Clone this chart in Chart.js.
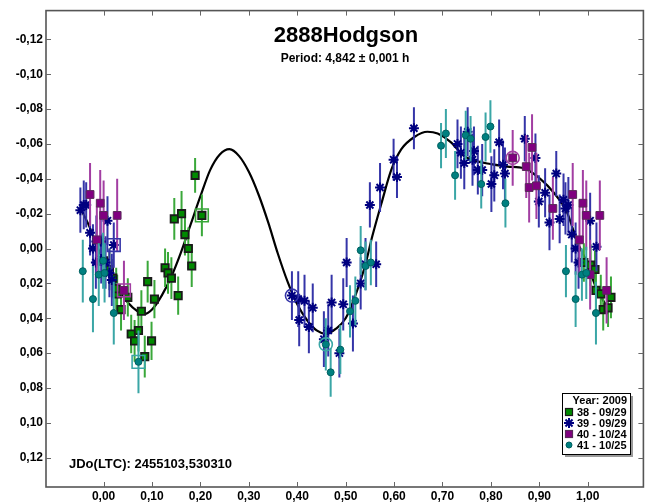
<!DOCTYPE html>
<html><head><meta charset="utf-8">
<script src="https://cdn.jsdelivr.net/npm/chart.js@4.4.1/dist/chart.umd.min.js"></script>
<style>html,body{margin:0;padding:0;background:#fff}#wrap{width:654px;height:504px;position:relative}</style>
</head><body><div id="wrap"><canvas id="c" width="654" height="504"></canvas></div>
<script>
// ---- texts / labels ----
const titleText = '2888Hodgson';
const subtitleText = 'Period: 4,842 ± 0,001 h';
const jdText = 'JDo(LTC): 2455103,530310';
const legendTitle = 'Year: 2009';
const seriesNames = ['38 - 09/29', '39 - 09/29', '40 - 10/24', '41 - 10/25'];
const xTicks = [0.00, 0.10, 0.20, 0.30, 0.40, 0.50, 0.60, 0.70, 0.80, 0.90, 1.00];
const yTicks = [-0.12, -0.10, -0.08, -0.06, -0.04, -0.02, 0.00, 0.02, 0.04, 0.06, 0.08, 0.10, 0.12];

// ---- series 38 - 09/29 ----
const s38Phase = [0.189, 0.203, 0.146, 0.161, 0.168, 0.175, 0.182, 0.127, 0.133, 0.140, 0.154, 0.091, 0.105, 0.078, 0.050, 0.036, 0.057, 0.072, 0.064, 0.099, 0.085, 0.028, 0.000, 0.012, 0.019, 0.026, 0.992, 1.006, 1.015, 1.017, 1.027, 1.032, 1.042, 1.048];
const s38Mag   = [-0.042, -0.019, -0.017, -0.020, -0.008, 0.000, 0.010, 0.011, 0.014, 0.017, 0.027, 0.019, 0.029, 0.036, 0.028, 0.035, 0.049, 0.047, 0.053, 0.053, 0.062, 0.026, 0.007, 0.012, 0.017, 0.023, 0.008, 0.0095, 0.012, 0.024, 0.026, 0.035, 0.034, 0.028];
const s38Err   = [0.010, 0.012, 0.012, 0.013, 0.012, 0.012, 0.012, 0.011, 0.012, 0.012, 0.011, 0.012, 0.011, 0.012, 0.011, 0.012, 0.011, 0.012, 0.012, 0.011, 0.012, 0.011, 0.012, 0.012, 0.011, 0.012, 0.011, 0.012, 0.011, 0.012, 0.011, 0.012, 0.011, 0.012];

// ---- series 39 - 09/29 ----
const s39Phase = [-0.048, -0.041, -0.036, 0.008, -0.028, -0.022, -0.015, -0.006, 0.021, -0.016, -0.005, 0.004, 0.012, 0.017,
  0.389, 0.404, 0.402, 0.415, 0.432, 0.424, 0.464, 0.455, 0.471, 0.495, 0.487, 0.515, 0.531, 0.502, 0.541, 0.563,
  0.550, 0.571, 0.599, 0.606, 0.641,
  0.731, 0.738, 0.752, 0.745, 0.765, 0.762, 0.773, 0.782, 0.817, 0.807, 0.801, 0.825, 0.829, 0.870,
  0.892, 0.935, 0.912, 0.899, 0.950, 0.960, 0.954, 0.942, 0.921, 1.005, 0.967, 0.975, 1.018, 0.981];
const s39Mag   = [-0.022, -0.025, -0.025, -0.016, -0.009, 0.000, -0.004, -0.004, -0.002, 0.008, 0.006, 0.008, 0.014, 0.018,
  0.027, 0.041, 0.029, 0.030, 0.034, 0.045, 0.047, 0.052, 0.031, 0.032, 0.060, 0.043, 0.020, 0.008, 0.009, 0.009,
  -0.025, -0.035, -0.051, -0.041, -0.069,
  -0.060, -0.055, -0.067, -0.049, -0.056, -0.051, -0.045, -0.045, -0.061, -0.042, -0.037, -0.048, -0.043, -0.063,
  -0.052, -0.043, -0.032, -0.027, -0.028, -0.025, -0.023, -0.017, -0.015, -0.016, -0.008, 0.000, -0.001, 0.008];
const s39Err   = [0.013, 0.014, 0.013, 0.014, 0.013, 0.014, 0.015, 0.014, 0.013, 0.015, 0.014, 0.015, 0.014, 0.015,
  0.014, 0.015, 0.016, 0.015, 0.014, 0.015, 0.015, 0.016, 0.016, 0.015, 0.014, 0.016, 0.015, 0.014, 0.015, 0.013,
  0.013, 0.014, 0.012, 0.012, 0.012,
  0.014, 0.015, 0.014, 0.015, 0.014, 0.015, 0.014, 0.015, 0.013, 0.015, 0.016, 0.014, 0.015, 0.013,
  0.014, 0.013, 0.014, 0.015, 0.015, 0.016, 0.015, 0.014, 0.016, 0.016, 0.016, 0.015, 0.014, 0.015];

// ---- series 40 - 10/24 ----
const s40Phase = [-0.028, -0.007, 0.000, 0.028, -0.014, 0.042,
  0.845, 0.873, 0.885, 0.879, 0.894, 0.928, 0.969, 0.990, 0.997, 1.025, 0.983, 1.005, 1.039];
const s40Mag   = [-0.031, -0.026, -0.019, -0.019, -0.005, 0.024,
  -0.052, -0.047, -0.058, -0.035, -0.036, -0.023, -0.031, -0.026, -0.019, -0.019, -0.005, 0.015, 0.024];
const s40Err   = [0.018, 0.019, 0.020, 0.021, 0.019, 0.017,
  0.016, 0.018, 0.019, 0.020, 0.019, 0.018, 0.018, 0.019, 0.020, 0.020, 0.019, 0.020, 0.019];

// ---- series 41 - 10/25 ----
const s41Phase = [-0.043, -0.022, -0.010, 0.002, 0.021, 0.072, -0.001,
  0.520, 0.509, 0.469, 0.489, 0.459, 0.531, 0.541, 0.552,
  0.707, 0.697, 0.726, 0.748, 0.758, 0.799, 0.789, 0.780, 0.830,
  0.955, 0.975, 0.988, 0.997, 1.017];
const s41Mag   = [0.013, 0.029, 0.015, 0.014, 0.037, 0.065, 0.007,
  0.030, 0.036, 0.071, 0.058, 0.055, 0.001, 0.010, 0.008,
  -0.066, -0.059, -0.042, -0.065, -0.063, -0.070, -0.064, -0.037, -0.026,
  0.013, 0.029, 0.015, 0.014, 0.037];
const s41Err   = [0.018, 0.019, 0.018, 0.017, 0.018, 0.018, 0.016,
  0.014, 0.015, 0.014, 0.014, 0.015, 0.014, 0.014, 0.013,
  0.014, 0.013, 0.014, 0.014, 0.013, 0.015, 0.014, 0.014, 0.014,
  0.015, 0.016, 0.015, 0.015, 0.018];

// ---- highlighted (session reference) points ----
const hlPhase  = [0.203, 0.021, 0.042, 0.072, 0.389, 0.459, 0.845];
const hlMag    = [-0.019, -0.002, 0.024, 0.065, 0.027, 0.055, -0.052];
const hlSeries = [0, 1, 2, 3, 1, 3, 2];

// ---- Fourier fit curve ----
const fitPhase = [-0.048, -0.03, -0.01, 0.01, 0.03, 0.05, 0.07, 0.085, 0.10, 0.12, 0.14, 0.16, 0.18, 0.20, 0.22, 0.24, 0.26, 0.28, 0.30, 0.32, 0.34, 0.36, 0.38, 0.40, 0.42, 0.44, 0.46, 0.48, 0.50, 0.52, 0.54, 0.555, 0.574, 0.594, 0.615, 0.642, 0.669, 0.69, 0.717, 0.745, 0.772, 0.799, 0.834, 0.868, 0.902, 0.930, 0.957, 0.977, 0.998, 1.018, 1.039];
const fitMag   = [-0.023, -0.013, 0.001, 0.013, 0.023, 0.031, 0.036, 0.0375, 0.035, 0.027, 0.016, 0.002, -0.014, -0.030, -0.045, -0.054, -0.057, -0.053, -0.044, -0.031, -0.015, 0.003, 0.019, 0.032, 0.041, 0.047, 0.049, 0.046, 0.040, 0.027, 0.010, -0.007, -0.026, -0.045, -0.057, -0.064, -0.067, -0.066, -0.061, -0.053, -0.050, -0.0485, -0.047, -0.046, -0.040, -0.032, -0.021, -0.005, 0.008, 0.023, 0.033];

// ---- styles ----
const FONT = '"Liberation Sans", Arial, sans-serif';
const seriesStyle = [
  {shape: 'rect', fill: '#008a00', border: '#1a1a1a', bar: '#3aa83a', radius: 5.2, bw: 1.8},
  {shape: 'star', fill: '#000080', border: '#000080', bar: '#3535a8', radius: 5, bw: 2},
  {shape: 'rect', fill: '#800080', border: '#5a2a5a', bar: '#a23ea2', radius: 5.5, bw: 1},
  {shape: 'circle', fill: '#008080', border: '#006060', bar: '#3aa6a6', radius: 3.5, bw: 1}
];
const hlShape = ['rect', 'rect', 'rect', 'rect', 'circle', 'circle', 'circle'];

const pts = (xs, ys) => xs.map((x, i) => ({x: x, y: ys[i]}));
const seriesData = [
  [s38Phase, s38Mag, s38Err],
  [s39Phase, s39Mag, s39Err],
  [s40Phase, s40Mag, s40Err],
  [s41Phase, s41Mag, s41Err]
];

const datasets = [];
datasets.push({
  type: 'line', label: 'fit', data: pts(fitPhase, fitMag),
  borderColor: '#000', borderWidth: 2.2, pointRadius: 0, fill: false,
  cubicInterpolationMode: 'monotone', order: 10
});
seriesData.forEach((s, k) => {
  const st = seriesStyle[k];
  datasets.push({
    type: 'scatter', label: seriesNames[k], data: pts(s[0], s[1]), errors: s[2], errorColor: st.bar,
    pointStyle: st.shape, pointRadius: st.radius, pointBackgroundColor: st.fill,
    pointBorderColor: st.border, pointBorderWidth: st.bw, order: 5 - k
  });
});
datasets.push({
  type: 'scatter', label: 'ref', data: pts(hlPhase, hlMag),
  pointStyle: hlShape.map(s => s),
  pointRadius: hlShape.map(s => s === 'rect' ? 9 : 6.5),
  pointBackgroundColor: 'rgba(0,0,0,0)',
  pointBorderColor: hlSeries.map(k => seriesStyle[k].bar),
  pointBorderWidth: 1.6, order: 0
});

const fmt = v => v.toFixed(2).replace('.', ',');

const errPlugin = {
  id: 'errbars',
  beforeDatasetDraw(chart, args) {
    const ds = chart.data.datasets[args.index];
    if (!ds.errors) return;
    const ctx = chart.ctx, xs = chart.scales.x, ys = chart.scales.y, a = chart.chartArea;
    ctx.save();
    ctx.beginPath(); ctx.rect(a.left, a.top, a.right - a.left, a.bottom - a.top); ctx.clip();
    ctx.strokeStyle = ds.errorColor; ctx.lineWidth = 2;
    ds.data.forEach((p, i) => {
      const e = ds.errors[i];
      const px = xs.getPixelForValue(p.x);
      ctx.beginPath();
      ctx.moveTo(px, ys.getPixelForValue(p.y - e));
      ctx.lineTo(px, ys.getPixelForValue(p.y + e));
      ctx.stroke();
    });
    ctx.restore();
  }
};

function drawMarker(ctx, shape, x, y, st) {
  ctx.save();
  ctx.fillStyle = st.fill; ctx.strokeStyle = st.border; ctx.lineWidth = st.bw;
  if (shape === 'rect') {
    ctx.lineWidth = 1.2;
    ctx.fillRect(x - 3.5, y - 3.5, 7, 7); ctx.strokeRect(x - 3.5, y - 3.5, 7, 7);
  } else if (shape === 'circle') {
    ctx.beginPath(); ctx.arc(x, y, 3, 0, Math.PI * 2); ctx.fill(); ctx.lineWidth = 1; ctx.stroke();
  } else {
    ctx.lineWidth = 2;
    for (let i = 0; i < 4; i++) {
      const ang = i * Math.PI / 4;
      ctx.beginPath();
      ctx.moveTo(x - 5 * Math.cos(ang), y - 5 * Math.sin(ang));
      ctx.lineTo(x + 5 * Math.cos(ang), y + 5 * Math.sin(ang));
      ctx.stroke();
    }
  }
  ctx.restore();
}

const framePlugin = {
  id: 'frame',
  afterDraw(chart) {
    const ctx = chart.ctx, a = chart.chartArea, xs = chart.scales.x, ys = chart.scales.y;
    ctx.save();
    // box
    ctx.strokeStyle = '#555'; ctx.lineWidth = 1.6;
    ctx.strokeRect(a.left, a.top, a.right - a.left, a.bottom - a.top);
    // inner ticks
    ctx.lineWidth = 1; ctx.strokeStyle = '#666';
    const tl = 5;
    xTicks.forEach(v => {
      const px = Math.round(xs.getPixelForValue(v)) + 0.5;
      ctx.beginPath(); ctx.moveTo(px, a.bottom); ctx.lineTo(px, a.bottom - tl); ctx.stroke();
      ctx.beginPath(); ctx.moveTo(px, a.top); ctx.lineTo(px, a.top + tl); ctx.stroke();
    });
    yTicks.forEach(v => {
      const py = Math.round(ys.getPixelForValue(v)) + 0.5;
      ctx.beginPath(); ctx.moveTo(a.left, py); ctx.lineTo(a.left + tl, py); ctx.stroke();
      ctx.beginPath(); ctx.moveTo(a.right, py); ctx.lineTo(a.right - tl, py); ctx.stroke();
    });
    // titles
    ctx.fillStyle = '#000'; ctx.textAlign = 'center'; ctx.textBaseline = 'middle';
    ctx.font = 'bold 22px ' + FONT;
    ctx.fillText(titleText, 346, 36);
    ctx.font = 'bold 12px ' + FONT;
    ctx.fillText(subtitleText, 345, 59);
    ctx.textAlign = 'left';
    ctx.font = 'bold 13px ' + FONT;
    ctx.fillText(jdText, 69, 464);
    // legend
    const lx = 562, ly = 393, lw = 68, lh = 61;
    ctx.fillStyle = '#9a9a9a'; ctx.fillRect(lx + 3, ly + 3, lw, lh);
    ctx.fillStyle = '#fff'; ctx.fillRect(lx, ly, lw, lh);
    ctx.strokeStyle = '#000'; ctx.lineWidth = 1; ctx.strokeRect(lx + 0.5, ly + 0.5, lw, lh);
    ctx.fillStyle = '#000'; ctx.font = 'bold 11px ' + FONT;
    ctx.textAlign = 'right';
    ctx.fillText(legendTitle, lx + lw - 3, ly + 8);
    ctx.textAlign = 'left';
    seriesNames.forEach((n, k) => {
      const yy = ly + 19 + k * 11;
      drawMarker(ctx, seriesStyle[k].shape, lx + 7, yy, seriesStyle[k]);
      ctx.fillStyle = '#000';
      ctx.fillText(n, lx + 15, yy + 0.5);
    });
    ctx.restore();
  }
};

new Chart(document.getElementById('c'), {
  data: {datasets: datasets},
  options: {
    responsive: false, animation: false,
    layout: {padding: {left: 0, right: 7, top: 7, bottom: 0}},
    plugins: {legend: {display: false}, tooltip: {enabled: false}, title: {display: false}},
    scales: {
      x: {
        type: 'linear', min: -0.119, max: 1.115,
        grid: {display: false, drawTicks: false, tickLength: 0}, border: {display: false},
        afterBuildTicks: ax => { ax.ticks = xTicks.map(v => ({value: v})); },
        afterFit: ax => { ax.height = 17; },
        ticks: {color: '#000', padding: 2, font: {family: FONT, size: 12, weight: 'bold'}, callback: v => fmt(v), maxRotation: 0, autoSkip: false}
      },
      y: {
        type: 'linear', reverse: true, min: -0.1365, max: 0.1368,
        grid: {display: false, drawTicks: false, tickLength: 0}, border: {display: false},
        afterBuildTicks: ax => { ax.ticks = yTicks.map(v => ({value: v})); },
        afterFit: ax => { ax.width = 46; },
        ticks: {color: '#000', padding: 3, font: {family: FONT, size: 12, weight: 'bold'}, callback: v => fmt(v), autoSkip: false}
      }
    }
  },
  plugins: [errPlugin, framePlugin]
});
</script>
</body></html>
